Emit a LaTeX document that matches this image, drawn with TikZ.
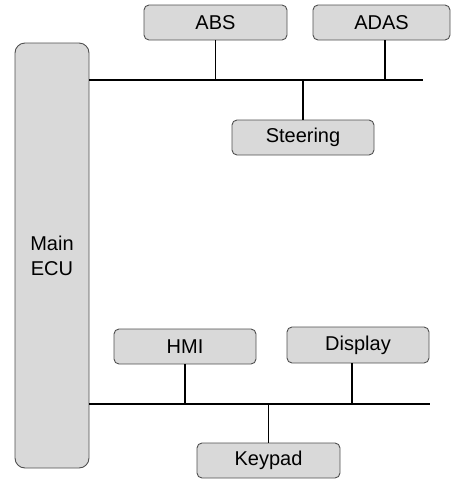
\documentclass[tikz,border=0pt]{standalone}
\usepackage{fontspec}
\setmainfont{Liberation Sans}
\definecolor{boxfill}{RGB}{217,217,217}
\definecolor{boxborder}{RGB}{80,80,80}
\begin{document}
\begin{tikzpicture}[x=1pt,y=-1pt,
  box/.style={draw=boxborder, fill=boxfill, rounded corners=5pt, line width=0.9pt,
    font=\fontsize{20}{25}\selectfont, inner sep=0pt, align=center},
  bus/.style={line width=1.5pt, draw=black}]
\useasboundingbox (0,0) rectangle (451,480);
\node[box, rounded corners=10pt, minimum width=74pt, minimum height=425pt] (main) at (52,255.5) {Main\\ECU};
\node[box, minimum width=143pt, minimum height=35pt] (abs) at (215.5,22.5) {ABS};
\node[box, minimum width=137pt, minimum height=35pt] (adas) at (381.5,22.5) {ADAS};
\node[box, minimum width=142pt, minimum height=35pt] (steer) at (303,137.5) {Steering};
\node[box, minimum width=142pt, minimum height=35pt] (hmi) at (185,346.5) {HMI};
\node[box, minimum width=142pt, minimum height=36pt] (disp) at (358,345) {Display};
\node[box, minimum width=143pt, minimum height=35pt] (key) at (268.5,460.5) {Keypad};
\coordinate (topR) at (423,80);
\coordinate (botR) at (430,404);
\draw[bus] (main.east |- topR) -- (topR);
\draw[bus] (abs.south) -- (abs.south |- topR);
\draw[bus] ([xshift=3.5pt]adas.south) -- ([xshift=3.5pt]adas.south |- topR);
\draw[bus] (steer.north) -- (steer.north |- topR);
\draw[bus] (main.east |- botR) -- (botR);
\draw[bus] (hmi.south) -- (hmi.south |- botR);
\draw[bus] ([xshift=-6pt]disp.south) -- ([xshift=-6pt]disp.south |- botR);
\draw[bus] (key.north) -- (key.north |- botR);
\end{tikzpicture}
\end{document}
